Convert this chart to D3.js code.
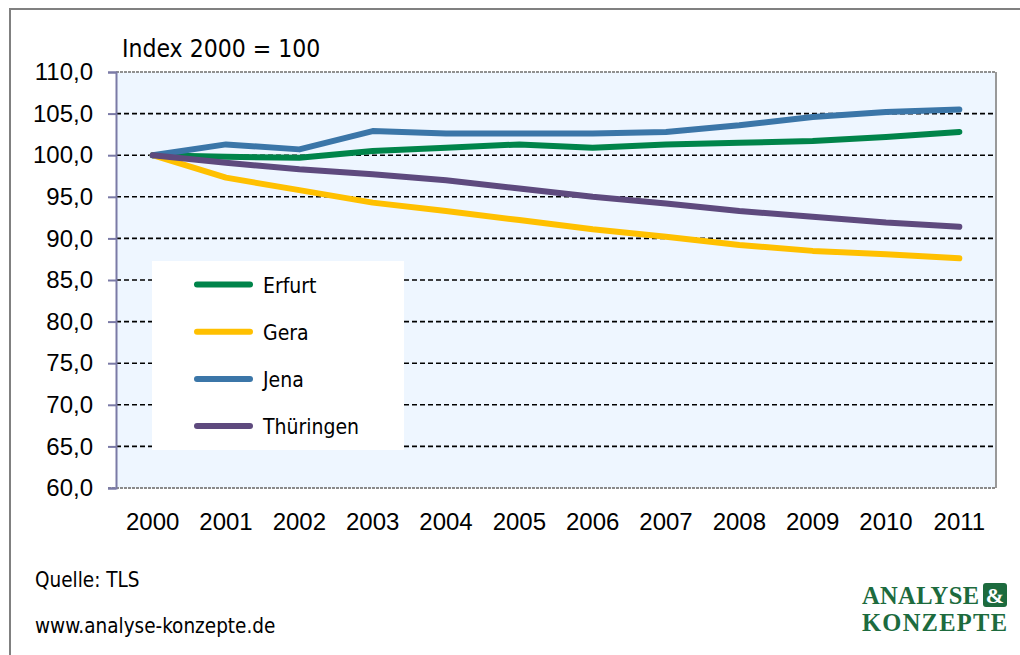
<!DOCTYPE html>
<html>
<head>
<meta charset="utf-8">
<script src="https://cdn.jsdelivr.net/npm/d3@7"></script>
<style>
  body { margin: 0; background: #fff; }
  svg { display: block; font-family: "DejaVu Sans Condensed", "DejaVu Sans", sans-serif; font-stretch: condensed; }
</style>
</head>
<body>
<svg id="chart" width="1020" height="655"></svg>
<script>
// --- Daten ---
const years = ["2000","2001","2002","2003","2004","2005","2006","2007","2008","2009","2010","2011"];
const erfurt    = [100, 99.8, 99.7, 100.5, 100.9, 101.3, 100.9, 101.3, 101.5, 101.7, 102.2, 102.8];
const gera      = [100, 97.3, 95.8, 94.3, 93.3, 92.2, 91.1, 90.2, 89.2, 88.5, 88.1, 87.6];
const jena      = [100, 101.3, 100.7, 102.9, 102.6, 102.6, 102.6, 102.8, 103.6, 104.6, 105.2, 105.5];
const thueringen = [100, 99.1, 98.3, 97.7, 97.0, 96.0, 95.0, 94.2, 93.3, 92.6, 91.9, 91.4];
const yTicks = [60, 65, 70, 75, 80, 85, 90, 95, 100, 105, 110];

const series = [
  { name: "Erfurt", values: erfurt, color: "#00844a" },
  { name: "Gera", values: gera, color: "#ffc000" },
  { name: "Jena", values: jena, color: "#3b76a8" },
  { name: "Thüringen", values: thueringen, color: "#5e4a7e" }
];

const svg = d3.select("#chart");

// Rahmen
svg.append("path")
  .attr("d", "M10,660 L10,9 L1025,9")
  .attr("fill", "none")
  .attr("stroke", "#808080")
  .attr("stroke-width", 2);

const plot = { left: 116, top: 72, right: 996, bottom: 488 };

const x = d3.scaleBand().domain(years).range([plot.left, plot.right]);
const y = d3.scaleLinear().domain([60, 110]).range([plot.bottom, plot.top]);

// Hintergrund
svg.append("rect")
  .attr("x", plot.left).attr("y", plot.top)
  .attr("width", plot.right - plot.left).attr("height", plot.bottom - plot.top)
  .attr("fill", "#eef6ff");

// Gitterlinien
svg.append("g")
  .selectAll("line")
  .data(yTicks.filter(d => d > 60 && d < 110))
  .join("line")
  .attr("x1", plot.left).attr("x2", plot.right)
  .attr("y1", d => y(d)).attr("y2", d => y(d))
  .attr("stroke", "#000")
  .attr("stroke-width", 1.6)
  .attr("stroke-dasharray", "5 3");

// Rand oben / rechts / unten (grau)
svg.append("line")
  .attr("x1", plot.left).attr("x2", plot.right)
  .attr("y1", plot.top).attr("y2", plot.top)
  .attr("stroke", "#909090").attr("stroke-width", 2).attr("stroke-dasharray", "3 1");
svg.append("line")
  .attr("x1", plot.right).attr("x2", plot.right)
  .attr("y1", plot.top).attr("y2", plot.bottom)
  .attr("stroke", "#999").attr("stroke-width", 2);
svg.append("line")
  .attr("x1", plot.left - 8).attr("x2", plot.right)
  .attr("y1", plot.bottom).attr("y2", plot.bottom)
  .attr("stroke", "#8a8a8a").attr("stroke-width", 2).attr("stroke-dasharray", "3 1");

// Y-Achse
const yAxis = svg.append("g")
  .attr("transform", `translate(${plot.left},0)`)
  .call(d3.axisLeft(y).tickValues(yTicks).tickSize(8).tickPadding(15)
    .tickFormat(d => d3.format(".1f")(d).replace(".", ",")));
yAxis.select(".domain").attr("stroke", "#7a7aa6").attr("stroke-width", 2);
yAxis.selectAll(".tick line").attr("stroke", "#7a7aa6").attr("stroke-width", 2);
yAxis.selectAll("text").attr("font-size", 24).attr("fill", "#000")
  .attr("font-family", "inherit");

// X-Achse
const xAxis = svg.append("g")
  .attr("transform", `translate(0,${plot.bottom})`)
  .call(d3.axisBottom(x).tickSize(0).tickPadding(25));
xAxis.select(".domain").remove();
xAxis.selectAll("text").attr("font-size", 24).attr("fill", "#000")
  .attr("font-family", "inherit");

// Linien
const line = d3.line()
  .x((d, i) => x(years[i]) + x.bandwidth() / 2)
  .y(d => y(d));

series.forEach(s => {
  svg.append("path")
    .datum(s.values)
    .attr("fill", "none")
    .attr("stroke", s.color)
    .attr("stroke-width", 6)
    .attr("stroke-linecap", "round")
    .attr("stroke-linejoin", "round")
    .attr("d", line);
});

// Legende
const legend = svg.append("g");
legend.append("rect")
  .attr("x", 152).attr("y", 261).attr("width", 252).attr("height", 189)
  .attr("fill", "#fff");
series.forEach((s, i) => {
  const ly = 284.5 + i * 47.2;
  legend.append("line")
    .attr("x1", 197).attr("x2", 250).attr("y1", ly).attr("y2", ly)
    .attr("stroke", s.color).attr("stroke-width", 6).attr("stroke-linecap", "round");
  legend.append("text")
    .attr("x", 263).attr("y", ly + 8)
    .attr("font-size", 21)
    .text(s.name);
});

// Titel
svg.append("text").attr("x", 122).attr("y", 57).attr("font-size", 24.5).text("Index 2000 = 100");

// Fußzeile
svg.append("text").attr("x", 35).attr("y", 587).attr("font-size", 20.5).text("Quelle: TLS");
svg.append("text").attr("x", 35).attr("y", 633).attr("font-size", 20.5).text("www.analyse-konzepte.de");

// Logo
const logo = svg.append("g").attr("font-family", "'Liberation Serif', serif").attr("font-weight", "bold")
  .attr("fill", "#1d6b3e");
logo.append("text").attr("x", 862).attr("y", 604).attr("font-size", 24.5).attr("textLength", 117).text("ANALYSE");
logo.append("rect").attr("x", 983).attr("y", 583).attr("width", 24).attr("height", 24).attr("rx", 3).attr("fill", "#1d6b3e");
logo.append("text").attr("x", 995).attr("y", 603).attr("text-anchor", "middle").attr("font-size", 22)
  .attr("fill", "#fff").text("&");
logo.append("text").attr("x", 862).attr("y", 631).attr("font-size", 24.5).attr("textLength", 145).text("KONZEPTE");
</script>
</body>
</html>
